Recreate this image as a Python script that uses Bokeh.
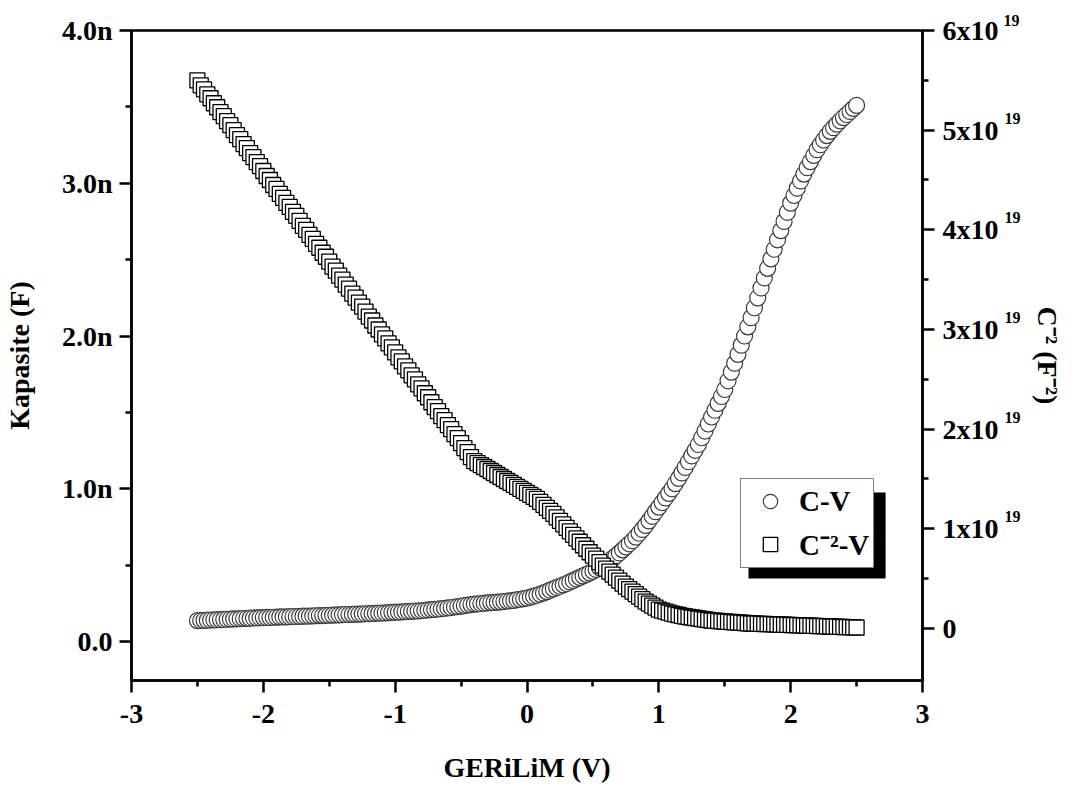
from bokeh.plotting import figure
from bokeh.models import (Range1d, LinearAxis, FixedTicker, Legend, LegendItem,
                          BoxAnnotation, Title)
from bokeh.embed import file_html
from bokeh.resources import INLINE

# ---------------- data ----------------
voltage = [
    -2.500, -2.475, -2.450, -2.425, -2.400, -2.375, -2.350, -2.325, -2.300, -2.275,
    -2.250, -2.225, -2.200, -2.175, -2.150, -2.125, -2.100, -2.075, -2.050, -2.025,
    -2.000, -1.975, -1.950, -1.925, -1.900, -1.875, -1.850, -1.825, -1.800, -1.775,
    -1.750, -1.725, -1.700, -1.675, -1.650, -1.625, -1.600, -1.575, -1.550, -1.525,
    -1.500, -1.475, -1.450, -1.425, -1.400, -1.375, -1.350, -1.325, -1.300, -1.275,
    -1.250, -1.225, -1.200, -1.175, -1.150, -1.125, -1.100, -1.075, -1.050, -1.025,
    -1.000, -0.975, -0.950, -0.925, -0.900, -0.875, -0.850, -0.825, -0.800, -0.775,
    -0.750, -0.725, -0.700, -0.675, -0.650, -0.625, -0.600, -0.575, -0.550, -0.525,
    -0.500, -0.475, -0.450, -0.425, -0.400, -0.375, -0.350, -0.325, -0.300, -0.275,
    -0.250, -0.225, -0.200, -0.175, -0.150, -0.125, -0.100, -0.075, -0.050, -0.025,
    0.000, 0.025, 0.050, 0.075, 0.100, 0.125, 0.150, 0.175, 0.200, 0.225,
    0.250, 0.275, 0.300, 0.325, 0.350, 0.375, 0.400, 0.425, 0.450, 0.475,
    0.500, 0.525, 0.550, 0.575, 0.600, 0.625, 0.650, 0.675, 0.700, 0.725,
    0.750, 0.775, 0.800, 0.825, 0.850, 0.875, 0.900, 0.925, 0.950, 0.975,
    1.000, 1.025, 1.050, 1.075, 1.100, 1.125, 1.150, 1.175, 1.200, 1.225,
    1.250, 1.275, 1.300, 1.325, 1.350, 1.375, 1.400, 1.425, 1.450, 1.475,
    1.500, 1.525, 1.550, 1.575, 1.600, 1.625, 1.650, 1.675, 1.700, 1.725,
    1.750, 1.775, 1.800, 1.825, 1.850, 1.875, 1.900, 1.925, 1.950, 1.975,
    2.000, 2.025, 2.050, 2.075, 2.100, 2.125, 2.150, 2.175, 2.200, 2.225,
    2.250, 2.275, 2.300, 2.325, 2.350, 2.375, 2.400, 2.425, 2.450, 2.475,
    2.500,
]

# capacitance in nF
capacitance_nF = [
    0.137, 0.138, 0.139, 0.140, 0.141, 0.142, 0.143, 0.144, 0.145, 0.146,
    0.147, 0.148, 0.149, 0.150, 0.151, 0.152, 0.153, 0.154, 0.155, 0.156,
    0.157, 0.158, 0.158, 0.159, 0.160, 0.161, 0.161, 0.162, 0.163, 0.164,
    0.164, 0.165, 0.166, 0.167, 0.167, 0.168, 0.169, 0.170, 0.170, 0.171,
    0.172, 0.173, 0.174, 0.175, 0.176, 0.177, 0.177, 0.178, 0.179, 0.180,
    0.181, 0.182, 0.183, 0.184, 0.185, 0.186, 0.187, 0.188, 0.189, 0.191,
    0.192, 0.193, 0.194, 0.196, 0.197, 0.198, 0.200, 0.201, 0.203, 0.205,
    0.207, 0.209, 0.211, 0.213, 0.215, 0.218, 0.220, 0.223, 0.226, 0.229,
    0.232, 0.236, 0.239, 0.242, 0.245, 0.247, 0.249, 0.251, 0.253, 0.255,
    0.256, 0.258, 0.260, 0.262, 0.265, 0.267, 0.270, 0.274, 0.277, 0.281,
    0.285, 0.291, 0.297, 0.303, 0.310, 0.318, 0.327, 0.336, 0.345, 0.354,
    0.362, 0.371, 0.380, 0.390, 0.400, 0.410, 0.420, 0.430, 0.440, 0.450,
    0.460, 0.472, 0.484, 0.497, 0.510, 0.527, 0.544, 0.562, 0.580, 0.600,
    0.620, 0.640, 0.660, 0.684, 0.709, 0.734, 0.760, 0.790, 0.820, 0.850,
    0.880, 0.910, 0.940, 0.970, 1.000, 1.034, 1.068, 1.104, 1.140, 1.177,
    1.215, 1.252, 1.290, 1.334, 1.378, 1.424, 1.470, 1.514, 1.559, 1.604,
    1.650, 1.707, 1.764, 1.822, 1.880, 1.940, 2.000, 2.060, 2.120, 2.185,
    2.250, 2.315, 2.380, 2.443, 2.505, 2.568, 2.630, 2.690, 2.750, 2.810,
    2.870, 2.920, 2.968, 3.015, 3.060, 3.102, 3.142, 3.182, 3.220, 3.252,
    3.283, 3.312, 3.340, 3.364, 3.387, 3.409, 3.430, 3.450, 3.470, 3.490,
    3.510,
]

# C^-2 in units of 1e19 F^-2
inv_c2_e19 = [
    5.50, 5.45, 5.41, 5.36, 5.32, 5.27, 5.23, 5.18, 5.14, 5.09,
    5.05, 5.00, 4.95, 4.91, 4.86, 4.82, 4.77, 4.73, 4.68, 4.64,
    4.59, 4.54, 4.50, 4.45, 4.41, 4.36, 4.32, 4.27, 4.23, 4.18,
    4.14, 4.09, 4.04, 4.00, 3.95, 3.91, 3.86, 3.82, 3.77, 3.73,
    3.68, 3.63, 3.59, 3.54, 3.50, 3.45, 3.41, 3.36, 3.32, 3.27,
    3.23, 3.18, 3.13, 3.09, 3.04, 3.00, 2.95, 2.91, 2.86, 2.82,
    2.77, 2.72, 2.68, 2.63, 2.59, 2.54, 2.50, 2.45, 2.41, 2.36,
    2.32, 2.27, 2.22, 2.18, 2.13, 2.09, 2.04, 2.00, 1.95, 1.91,
    1.86, 1.81, 1.77, 1.72, 1.68, 1.66, 1.64, 1.62, 1.60, 1.58,
    1.56, 1.54, 1.52, 1.50, 1.48, 1.46, 1.44, 1.42, 1.40, 1.38,
    1.36, 1.34, 1.32, 1.30, 1.27, 1.24, 1.21, 1.18, 1.15, 1.115,
    1.08, 1.045, 1.01, 0.975, 0.94, 0.905, 0.87, 0.835, 0.80, 0.765,
    0.73, 0.70, 0.665, 0.63, 0.60, 0.57, 0.54, 0.51, 0.48, 0.45,
    0.42, 0.395, 0.37, 0.345, 0.32, 0.295, 0.27, 0.25, 0.23, 0.21,
    0.19, 0.18, 0.17, 0.16, 0.15, 0.142, 0.135, 0.127, 0.12, 0.115,
    0.11, 0.105, 0.10, 0.095, 0.09, 0.085, 0.08, 0.078, 0.075, 0.072,
    0.07, 0.067, 0.065, 0.062, 0.06, 0.058, 0.055, 0.052, 0.05, 0.049,
    0.048, 0.046, 0.045, 0.044, 0.043, 0.041, 0.04, 0.039, 0.038, 0.036,
    0.035, 0.034, 0.033, 0.031, 0.03, 0.029, 0.028, 0.026, 0.025, 0.024,
    0.023, 0.021, 0.02, 0.019, 0.018, 0.016, 0.015, 0.014, 0.013, 0.011,
    0.01,
]

x_ticks = [-3, -2, -1, 0, 1, 2, 3]
x_tick_labels = ["-3", "-2", "-1", "0", "1", "2", "3"]
left_ticks = [0, 1, 2, 3, 4]
left_tick_labels = ["0.0", "1.0n", "2.0n", "3.0n", "4.0n"]
right_ticks = [0, 1, 2, 3, 4, 5, 6]
right_tick_labels = ["0", "1x10", "2x10", "3x10", "4x10", "5x10", "6x10"]
right_exp_ticks = [1, 2, 3, 4, 5]
right_tick_exponent = "19"

x_label = "GERiLiM (V)"
left_label = "Kapasite (F)"
right_label = "C\u207b\u00b2 (F\u207b\u00b2)"
series_names = ["C-V", "C\u207b\u00b2-V"]

# ---------------- styling ----------------
FONT = "Liberation Serif"
AXW = 2.5
RIGHT_LO, RIGHT_HI = -0.522, 6.0
EXP_SHIFT = 0.12   # superscript raised ~12 px above the tick

p = figure(width=1084, height=791, x_range=Range1d(-3, 3), y_range=Range1d(-0.255, 4.0),
           output_backend="svg", toolbar_location=None,
           min_border_left=131, min_border_right=162, min_border_top=30, min_border_bottom=111)
p.extra_y_ranges = {"right": Range1d(RIGHT_LO, RIGHT_HI),
                    "right_exp": Range1d(RIGHT_LO - EXP_SHIFT, RIGHT_HI - EXP_SHIFT)}
p.xgrid.visible = False
p.ygrid.visible = False
p.outline_line_color = "black"
p.outline_line_width = AXW
p.background_fill_color = "white"
p.border_fill_color = "white"


def style_axis(ax):
    ax.axis_line_width = AXW
    ax.axis_line_color = "black"
    ax.major_tick_line_width = AXW
    ax.minor_tick_line_width = AXW
    ax.major_tick_in = 0
    ax.major_tick_out = 12
    ax.minor_tick_in = 0
    ax.minor_tick_out = 6
    ax.major_label_text_font = FONT
    ax.major_label_text_font_style = "bold"
    ax.major_label_text_font_size = "28px"
    ax.major_label_text_color = "black"
    ax.axis_label_text_font = FONT
    ax.axis_label_text_font_style = "bold"
    ax.axis_label_text_font_size = "28px"
    ax.axis_label_text_color = "black"


xa = p.xaxis[0]
style_axis(xa)
xa.ticker = FixedTicker(ticks=x_ticks, minor_ticks=[-2.5, -1.5, -0.5, 0.5, 1.5, 2.5])
xa.major_label_overrides = {t: s for t, s in zip(x_ticks, x_tick_labels)}
xa.axis_label = x_label
xa.major_label_standoff = 12
xa.axis_label_standoff = 26

ya = p.yaxis[0]
style_axis(ya)
ya.ticker = FixedTicker(ticks=left_ticks, minor_ticks=[0.5, 1.5, 2.5, 3.5])
ya.major_label_overrides = {t: s for t, s in zip(left_ticks, left_tick_labels)}
ya.axis_label = left_label
ya.major_label_standoff = 7
ya.axis_label_standoff = 24

# right axis: mantissa labels
right_axis = LinearAxis(y_range_name="right")
style_axis(right_axis)
right_axis.ticker = FixedTicker(ticks=right_ticks, minor_ticks=[0.5, 1.5, 2.5, 3.5, 4.5, 5.5])
right_axis.major_label_overrides = {t: s for t, s in zip(right_ticks, right_tick_labels)}
right_axis.major_label_standoff = 8
p.add_layout(right_axis, "right")

# second right axis: only carries the raised "19" exponents and the axis title
exp_axis = LinearAxis(y_range_name="right_exp")
style_axis(exp_axis)
exp_axis.ticker = FixedTicker(ticks=right_exp_ticks, minor_ticks=[])
exp_axis.major_label_overrides = {t: right_tick_exponent for t in right_exp_ticks}
exp_axis.axis_line_color = None
exp_axis.major_tick_line_color = None
exp_axis.minor_tick_line_color = None
exp_axis.major_tick_out = 0
exp_axis.minor_tick_out = 0
exp_axis.major_label_text_font_size = "16px"
exp_axis.major_label_standoff = 3
exp_axis.axis_label = right_label
exp_axis.axis_label_standoff = 8
p.add_layout(exp_axis, "right")

# exponent of the top tick lies above the frame: carried by a title in the top border
p.add_layout(Title(text=right_tick_exponent, align="left", offset=872, standoff=10,
                   text_font=FONT, text_font_style="bold", text_font_size="16px",
                   text_color="black", vertical_align="bottom"), "above")

cv = p.scatter(voltage, capacitance_nF, marker="circle", size=16,
               fill_color="white", line_color="#3c3c3c", line_width=1.2)
c2 = p.scatter(voltage, inv_c2_e19, marker="square", size=15, y_range_name="right",
               fill_color="white", line_color="black", line_width=1.3)

# legend shadow
shadow = BoxAnnotation(left=1.68, right=2.72, top=0.975, bottom=0.412,
                       fill_color="black", fill_alpha=1.0, line_color=None)
p.add_layout(shadow)

legend = Legend(items=[LegendItem(label=series_names[0], renderers=[cv]),
                       LegendItem(label=series_names[1], renderers=[c2])],
                location=(609, 112), padding=4, margin=0, spacing=5,
                glyph_width=50, glyph_height=36, label_standoff=4,
                label_text_font=FONT, label_text_font_style="bold",
                label_text_font_size="29px", label_text_color="black",
                label_height=34,
                border_line_color="black", border_line_width=1.5,
                background_fill_color="white", background_fill_alpha=1.0)
p.add_layout(legend)

open("out.html", "w").write(file_html(p, INLINE))
